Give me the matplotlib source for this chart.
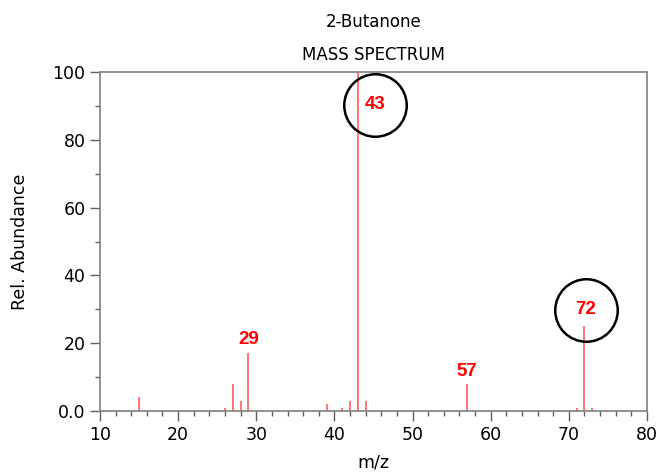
import matplotlib.pyplot as plt
from matplotlib.ticker import MultipleLocator

# m/z values and relative abundances
mz = [15, 26, 27, 28, 29, 39, 41, 42, 43, 44, 57, 71, 72, 73]
abundance = [4, 1, 8, 3, 17, 2, 1, 3, 100, 3, 8, 1, 25, 1]

# labelled peaks (text placed above the peak)
label_text = ['29', '57', '72', '43']
label_x = [29.1, 57.0, 72.2, 45.2]
label_y = [21.2, 11.8, 30.0, 90.3]

# circled peaks
circle_x = [45.2, 72.2]
circle_y = [90.3, 29.8]

yticks = [0, 20, 40, 60, 80, 100]
ytick_labels = ['0.0', '20', '40', '60', '80', '100']

fig = plt.figure(figsize=(6.59, 4.72), dpi=100)
ax = fig.add_axes([0.1517, 0.1292, 0.830, 0.7182])

ax.vlines(mz, 0, abundance, color='#ff4d4d', linewidth=1.1)

for x, y, t in zip(label_x, label_y, label_text):
    ax.text(x, y, t, color='red', fontsize=13.5, fontweight='bold',
            family='Liberation Sans', ha='center', va='center')

ax.plot(circle_x, circle_y, 'o', markersize=45, markerfacecolor='none',
        markeredgecolor='black', markeredgewidth=1.8, clip_on=False)

ax.set_xlim(10, 80)
ax.set_ylim(0, 100)
ax.xaxis.set_major_locator(MultipleLocator(10))
ax.xaxis.set_minor_locator(MultipleLocator(2))
ax.set_yticks(yticks)
ax.set_yticklabels(ytick_labels)
ax.yaxis.set_minor_locator(MultipleLocator(10))

for s in ax.spines.values():
    s.set_color('#808080')
    s.set_linewidth(1.2)
ax.tick_params(which='major', length=7, color='#606060', labelsize=12.5, width=1)
ax.tick_params(which='minor', length=3.5, color='#606060', width=1)

ax.set_xlabel('m/z', fontsize=12.5, labelpad=7)
ax.set_ylabel('Rel. Abundance', fontsize=12.5, labelpad=17)
ax.set_title('2-Butanone\nMASS SPECTRUM', fontsize=12, linespacing=2.05, pad=9)

fig.savefig('out.png', dpi=100)
